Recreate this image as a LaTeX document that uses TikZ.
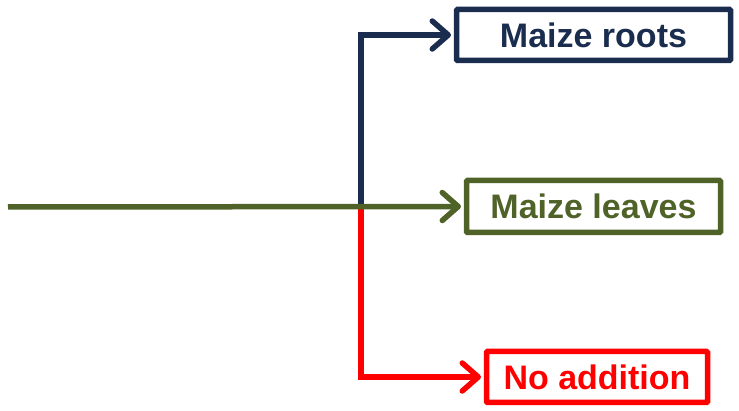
\documentclass[tikz,border=0pt]{standalone}
\usepackage{fontspec}
\setmainfont{Liberation Sans}
\usetikzlibrary{arrows.meta}
\definecolor{navy}{HTML}{1B2D4F}
\definecolor{olive}{HTML}{4F6228}
\definecolor{red1}{HTML}{FF0000}
\begin{document}
\begin{tikzpicture}[x=1pt,y=-1pt,
  box/.style={draw, line width=5.5pt, fill=white, inner sep=0pt, font=\fontsize{34}{40}\selectfont\bfseries, rounded corners=1pt},
  conn/.style={line width=5.5pt, -{Straight Barb[length=16pt,width=28pt,line cap=round,line join=round]}}]
\useasboundingbox (0,0) rectangle (739,411);
\node[box, draw=navy, text=navy, minimum width=274pt, minimum height=51pt] (roots) at (593.5,35) {Maize roots};
\node[box, draw=olive, text=olive, minimum width=254pt, minimum height=52pt] (leaves) at (593.5,206.5) {Maize leaves};
\node[box, draw=red1, text=red1, minimum width=221pt, minimum height=51pt] (noadd) at (597,377) {No addition};
\coordinate (start) at (8,207);
\coordinate (j) at (361,207);
\draw[conn, navy] (j) |- ([xshift=-2.75pt]roots.west);
\draw[conn, red1] (j) |- ([xshift=-2.75pt]noadd.west);
\draw[conn, olive] (start) -- ([xshift=-2.75pt]leaves.west);
\end{tikzpicture}
\end{document}
